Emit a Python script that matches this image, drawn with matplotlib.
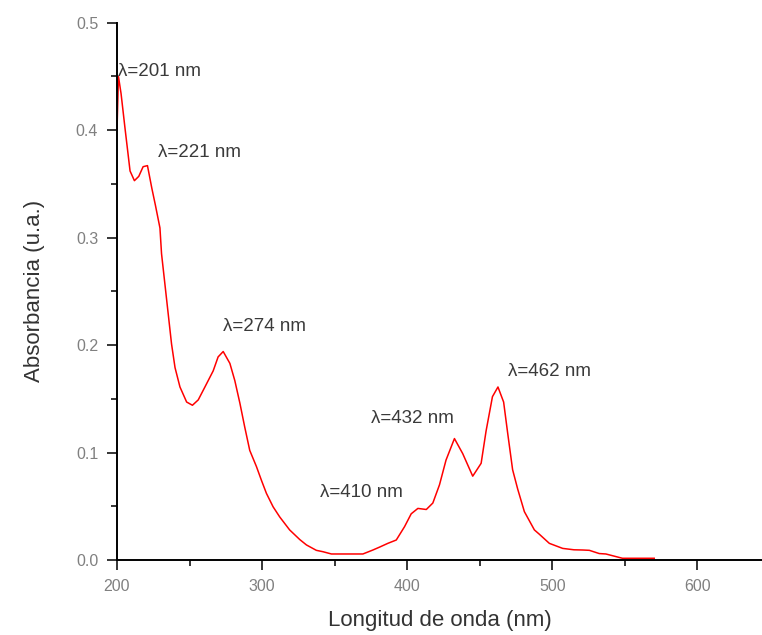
"""UV-Vis absorption spectrum with labelled band maxima."""

import matplotlib

matplotlib.use("Agg")

import matplotlib.pyplot as plt
from matplotlib.ticker import MultipleLocator

plt.rcParams["font.family"] = ["Liberation Sans", "DejaVu Sans"]

# spectrum
WAVELENGTH_NM = [
    200, 201, 202.8, 205.5, 209, 212, 215, 218, 221, 224, 226.5, 229.6,
    230.7, 233, 235.3, 237.6, 240, 243.4, 248, 252, 256, 260.6, 266.3,
    269.7, 273.2, 277.8, 281.2, 284.7, 288, 291.5, 296.1, 299.6, 303,
    307.6, 312.2, 319, 326, 330.6, 337.4, 342, 347.8, 369.5, 376.4, 381,
    386.7, 392.5, 398.2, 402.8, 407.4, 413.2, 417.7, 422.3, 426.8, 432.6,
    438.3, 445.2, 451, 454.4, 458.8, 462.6, 466.5, 469.3, 472.7, 476.2,
    480.8, 487.7, 491.1, 498, 507.2, 515, 521, 525.6, 532.4, 537, 548.4,
    570.3,
]
ABSORBANCE = [
    0.400, 0.450, 0.434, 0.402, 0.362, 0.353, 0.357, 0.366, 0.367, 0.346,
    0.330, 0.309, 0.285, 0.257, 0.229, 0.201, 0.179, 0.161, 0.147, 0.144,
    0.149, 0.161, 0.176, 0.189, 0.194, 0.183, 0.167, 0.146, 0.124, 0.102,
    0.087, 0.074, 0.062, 0.0495, 0.040, 0.028, 0.019, 0.014, 0.009, 0.0077,
    0.0056, 0.0056, 0.0093, 0.012, 0.0155, 0.0186, 0.031, 0.043, 0.048,
    0.047, 0.053, 0.070, 0.093, 0.113, 0.099, 0.078, 0.090, 0.120, 0.152,
    0.161, 0.147, 0.118, 0.084, 0.066, 0.045, 0.028, 0.024, 0.0155, 0.0108,
    0.0095, 0.0093, 0.009, 0.006, 0.0056, 0.0016, 0.0016,
]

PEAK_LABELS = ["λ=201 nm", "λ=221 nm", "λ=274 nm", "λ=410 nm", "λ=432 nm", "λ=462 nm"]
LABEL_X = [200.7, 228.2, 273.2, 339.7, 375.3, 469.4]
LABEL_Y = [0.455, 0.379, 0.217, 0.063, 0.132, 0.175]

X_RANGE = (200, 644.6)
Y_RANGE = (0.0, 0.5)


def main() -> None:
    fig = plt.figure(figsize=(7.62, 6.35), dpi=100)
    ax = fig.add_axes([117 / 762, 75 / 635, 645 / 762, 537.3 / 635])

    ax.plot(WAVELENGTH_NM, ABSORBANCE, color="#ff0000", linewidth=1.1)

    for text, x, y in zip(PEAK_LABELS, LABEL_X, LABEL_Y):
        ax.text(x, y, text, ha="left", va="center", fontsize=13.5, color="#3a3a3a")

    ax.set_xlim(*X_RANGE)
    ax.set_ylim(*Y_RANGE)
    ax.xaxis.set_major_locator(MultipleLocator(100))
    ax.xaxis.set_minor_locator(MultipleLocator(50))
    ax.yaxis.set_major_locator(MultipleLocator(0.1))
    ax.yaxis.set_minor_locator(MultipleLocator(0.05))
    ax.yaxis.set_major_formatter(lambda v, _: f"{v:.1f}")

    for side in ("top", "right"):
        ax.spines[side].set_visible(False)
    for side in ("left", "bottom"):
        ax.spines[side].set_linewidth(1.4)

    ax.tick_params(which="major", direction="out", length=7.5, width=1.1,
                   labelsize=11.5, labelcolor="#808080", pad=6)
    ax.tick_params(which="minor", direction="out", length=4, width=1.1)

    ax.set_xlabel("Longitud de onda (nm)", fontsize=16, color="#333333", labelpad=12)
    ax.set_ylabel("Absorbancia (u.a.)", fontsize=16, color="#333333", labelpad=22)

    fig.savefig("out.png", dpi=100)
    plt.close(fig)


if __name__ == "__main__":
    main()
